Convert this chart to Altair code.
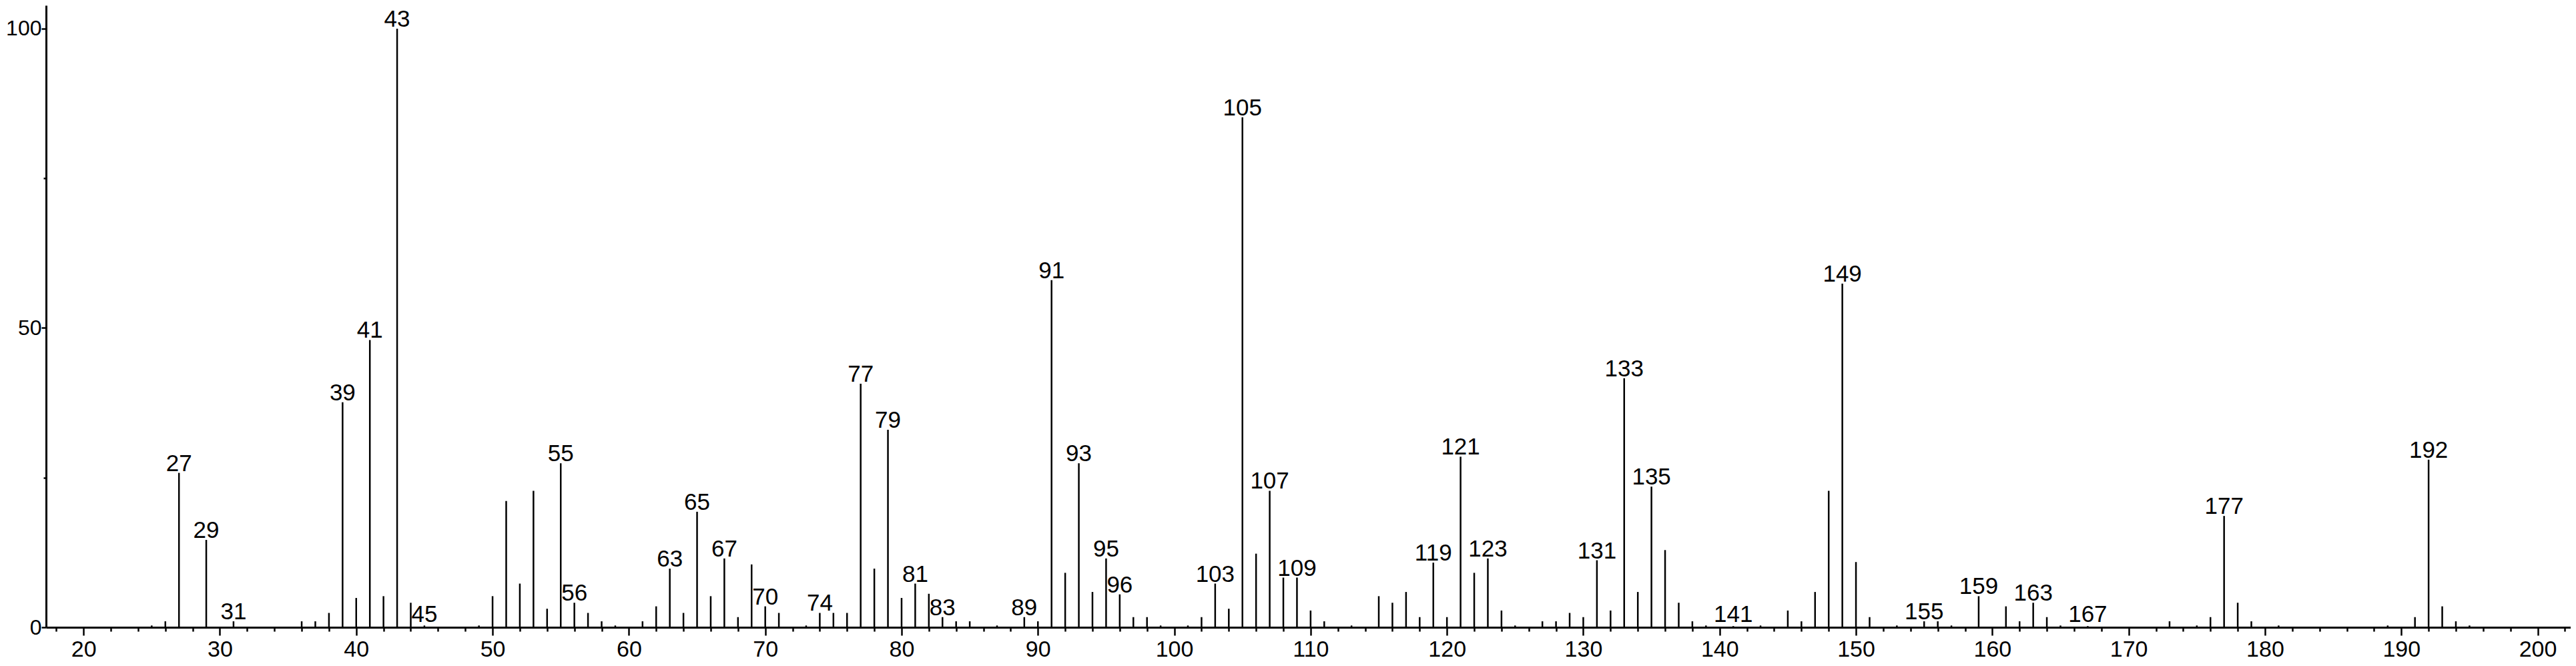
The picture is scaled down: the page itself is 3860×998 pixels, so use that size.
import altair as alt
import pandas as pd

# m/z values and relative intensities
mz = [25, 26, 27, 29, 31, 36, 37, 38, 39, 40, 41, 42, 43, 44, 45, 49,
      50, 51, 52, 53, 54, 55, 56, 57, 58, 59, 61, 62, 63, 64, 65, 66, 67, 68, 69,
      70, 71, 73, 74, 75, 76, 77, 78, 79, 80, 81, 82, 83, 84, 85, 87, 89,
      90, 91, 92, 93, 94, 95, 96, 97, 98, 99, 101, 102, 103, 104, 105, 106, 107, 108, 109,
      110, 111, 113, 115, 116, 117, 118, 119, 120, 121, 122, 123, 124, 125, 127, 128, 129,
      130, 131, 132, 133, 134, 135, 136, 137, 138, 139, 141, 143, 145, 146, 147, 148, 149,
      150, 151, 153, 155, 156, 157, 159, 161, 162, 163, 164, 165, 167,
      173, 175, 176, 177, 178, 179, 181, 189, 191, 192, 193, 194, 195]
intensity = [0.3, 1.0, 25.8, 14.6, 1.0, 1.0, 1.0, 2.4, 37.6, 4.9, 48.0, 5.2, 100.0, 4.1, 0.3, 0.3,
             5.2, 21.1, 7.3, 22.8, 3.1, 27.4, 4.1, 2.4, 1.0, 0.3, 1.0, 3.5, 9.8, 2.4, 19.3, 5.2, 11.5, 1.7, 10.5,
             3.5, 2.4, 0.3, 2.4, 2.4, 2.4, 40.7, 9.8, 33.0, 4.9, 7.3, 5.6, 1.7, 1.0, 1.0, 0.3, 1.7,
             1.0, 58.0, 9.1, 27.4, 5.9, 11.5, 5.5, 1.7, 1.7, 0.3, 0.3, 1.7, 7.3, 3.1, 85.2, 12.3, 22.8, 8.3, 8.3,
             2.8, 1.0, 0.3, 5.2, 4.1, 5.9, 1.7, 10.8, 1.7, 28.5, 9.1, 11.5, 2.8, 0.3, 1.0, 1.0, 2.4,
             1.7, 11.2, 2.8, 41.6, 5.9, 23.5, 12.9, 4.1, 1.0, 0.3, 0.2, 0.3, 2.8, 1.0, 5.9, 22.8, 57.4,
             10.9, 1.7, 0.3, 1.0, 1.0, 0.3, 5.2, 3.5, 1.0, 4.1, 1.7, 0.3, 0.2,
             1.0, 0.3, 1.7, 18.6, 4.1, 1.0, 0.3, 0.3, 1.7, 28.0, 3.5, 1.0, 0.3]
labeled = [27, 29, 31, 39, 41, 43, 45, 55, 56, 63, 65, 67, 70, 74, 77, 79, 81, 83, 89,
           91, 93, 95, 96, 103, 105, 107, 109, 119, 121, 123, 131, 133, 135, 141, 149,
           155, 159, 163, 167, 177, 192]

x_major = [20, 30, 40, 50, 60, 70, 80, 90, 100, 110, 120, 130, 140, 150, 160, 170, 180, 190, 200]
x_minor = [v for v in range(18, 203, 2) if v % 10 != 0]
y_major = [0, 50, 100]
y_minor = [25, 75]

df = pd.DataFrame({"mz": mz, "inten": intensity})
df["base"] = 0.0
lab = df[df["mz"].isin(labeled)].copy()

FONT = "Liberation Sans"
xscale = alt.Scale(domain=[17.25, 202.42], nice=False, zero=False)
yscale = alt.Scale(domain=[0, 103.9], nice=False, zero=True)

x_axis_major = alt.Axis(values=x_major, orient="bottom", title="", grid=False,
                        tickSize=12, tickWidth=2.5, tickColor="black",
                        domain=True, domainWidth=3, domainColor="black",
                        labelFont=FONT, labelFontSize=34, labelColor="black",
                        labelPadding=4, labelFlush=False, labelOverlap=False, format="d")
x_axis_minor = alt.Axis(values=x_minor, orient="bottom", title="", grid=False,
                        tickSize=6, tickWidth=2.5, tickColor="black",
                        domain=False, labels=False)
y_axis_major = alt.Axis(values=y_major, orient="left", title="", grid=False,
                        tickSize=7, tickWidth=2.5, tickColor="black",
                        domain=True, domainWidth=3, domainColor="black",
                        labelFont=FONT, labelFontSize=32, labelColor="black",
                        labelPadding=0, labelFlush=False, labelOverlap=False, format="d")
y_axis_minor = alt.Axis(values=y_minor, orient="left", title="", grid=False,
                        tickSize=4, tickWidth=2.5, tickColor="black",
                        domain=False, labels=False)

bars = alt.Chart(df).mark_rule(color="black", strokeWidth=2.5).encode(
    x=alt.X("mz:Q", scale=xscale, axis=x_axis_major),
    y=alt.Y("inten:Q", scale=yscale, axis=y_axis_major),
    y2="base:Q",
)

texts = alt.Chart(lab).transform_calculate(
    ly="max(datum.inten, 0.6)"
).mark_text(font=FONT, fontSize=35, align="center", baseline="alphabetic",
            dy=-3, color="black").encode(
    x=alt.X("mz:Q", scale=xscale, axis=x_axis_minor),
    y=alt.Y("ly:Q", scale=yscale, axis=y_axis_minor),
    text=alt.Text("mz:Q", format="d"),
)

chart = alt.layer(bars, texts).resolve_axis(
    x="independent", y="independent"
).properties(
    width=3783, height=932,
    autosize=alt.AutoSizeParams(type="none"),
    padding={"left": 61, "top": 0, "right": 0, "bottom": 50},
    background="white",
).configure_view(strokeOpacity=0)

chart.save("out.html", embed_options={"renderer": "svg", "actions": False})
